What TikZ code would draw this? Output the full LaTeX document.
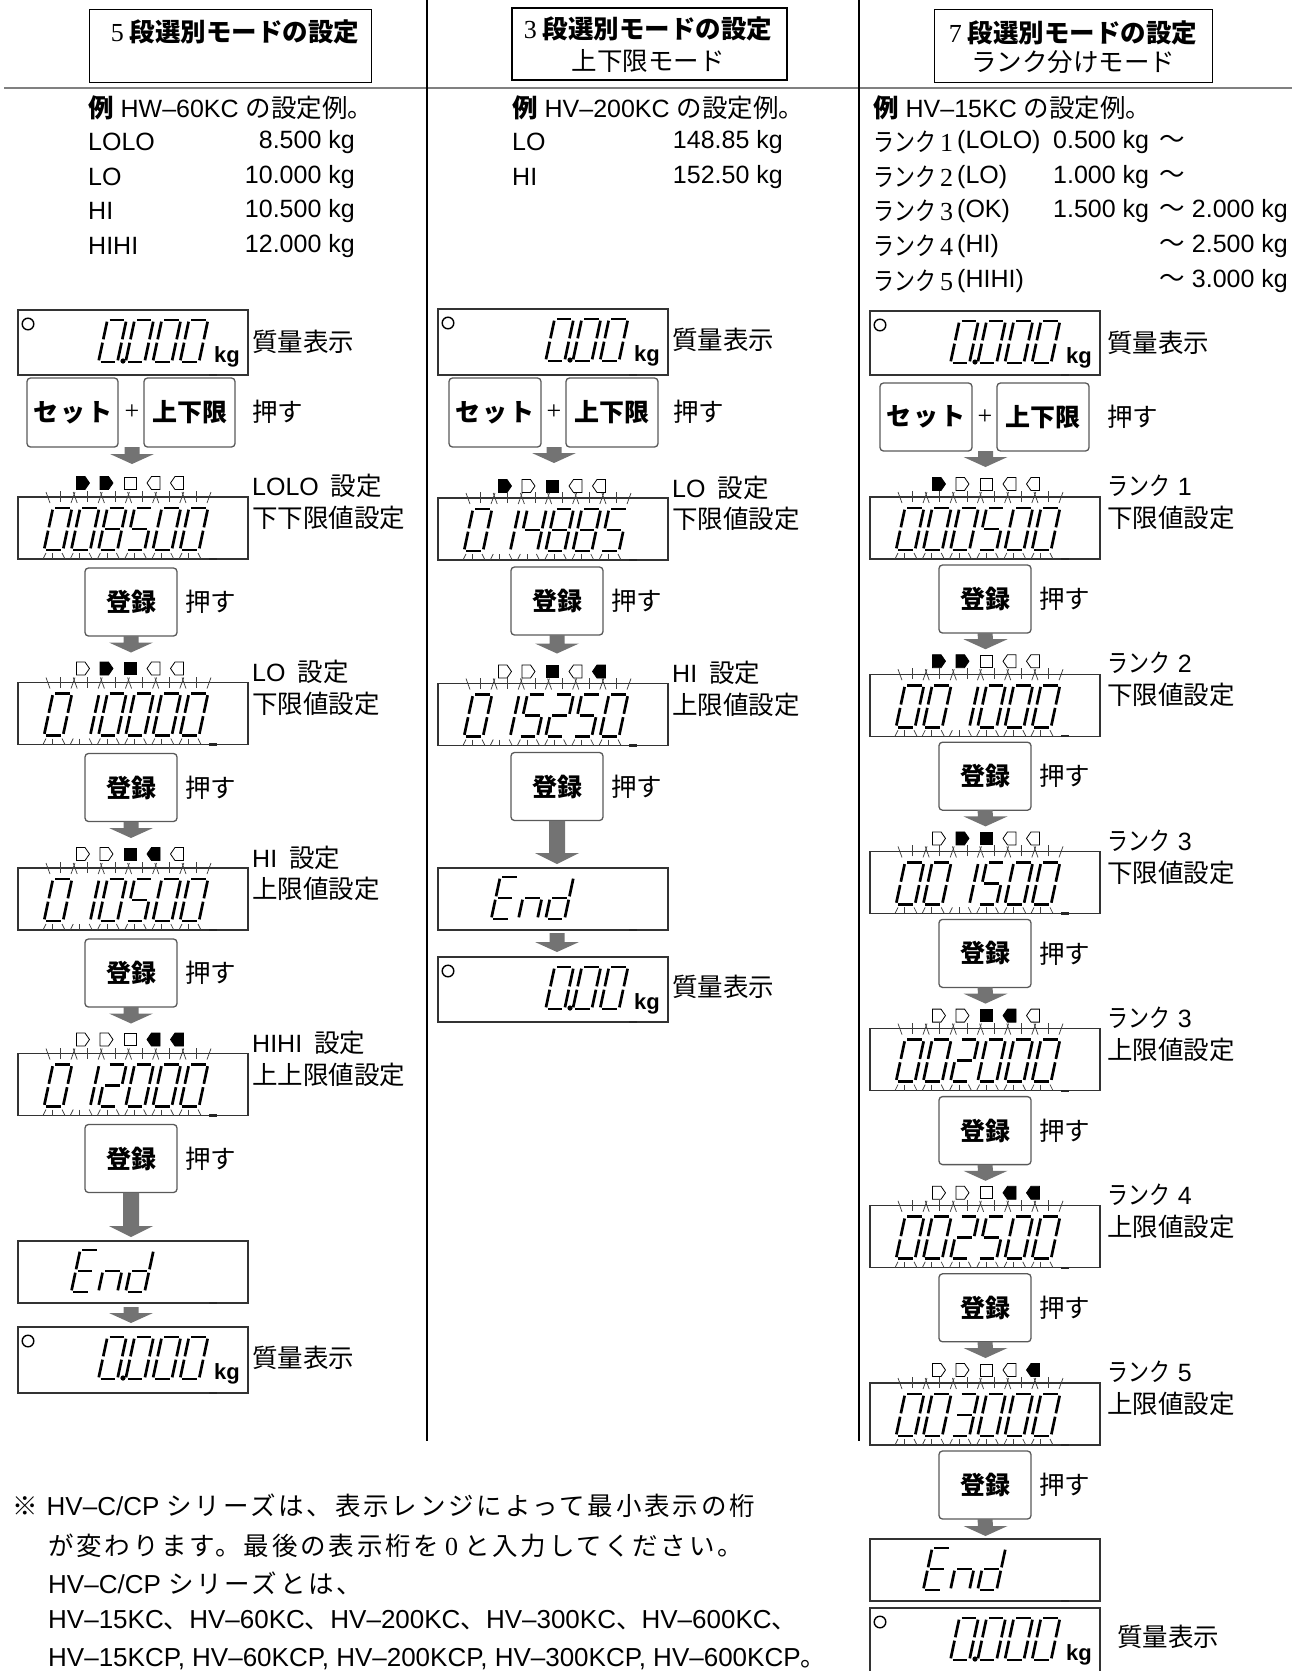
\documentclass[tikz,border=0pt]{standalone}
\usepackage{fontspec}
\usepackage{graphicx}
\setmainfont{Liberation Sans}
\newfontfamily\jp{Noto Sans CJK JP}
\newfontfamily\jpw{Noto Sans CJK JP}[LetterSpace=11]
\newfontfamily\sr{Liberation Serif}
\newcommand\J[1]{{\jp\fontsize{25.5pt}{29pt}\selectfont #1}}
\newcommand\JW[1]{{\jpw\fontsize{25.5pt}{29pt}\selectfont #1}}
\newcommand\JB[1]{{\jp\bfseries\fontsize{25.5pt}{29pt}\selectfont #1}}
\newcommand\R[1]{{\sr\fontsize{26pt}{29pt}\selectfont #1}}
\newcommand\Rk{\scalebox{0.82}[1]{\J{ランク}}}
\usetikzlibrary{arrows.meta}
\makeatletter
\newcommand\SegIf[3]{\in@{#1}{#2}\ifin@\expandafter\@firstofone\else\expandafter\@gobble\fi{#3}}
\newcommand\DigS[3]{%
 \begin{scope}[shift={({#1},{#2})},x={(19pt,0pt)},y={(9pt,42pt)}]
 \SegIf{a}{#3}{\draw[seg] (0.12,1)--(0.88,1);}
 \SegIf{b}{#3}{\draw[seg] (1,0.96)--(1,0.54);}
 \SegIf{c}{#3}{\draw[seg] (1,0.46)--(1,0.04);}
 \SegIf{d}{#3}{\draw[seg] (0.12,0)--(0.88,0);}
 \SegIf{e}{#3}{\draw[seg] (0,0.46)--(0,0.04);}
 \SegIf{f}{#3}{\draw[seg] (0,0.96)--(0,0.54);}
 \SegIf{g}{#3}{\draw[seg] (0.12,0.5)--(0.88,0.5);}
 \end{scope}}
\newcommand\DigC[3]{\edef\dg@s{\csname sg@#3\endcsname}\expandafter\DigC@\expandafter{\dg@s}{#1}{#2}}
\newcommand\DigC@[3]{\DigS{#2}{#3}{#1}}
\@namedef{sg@0}{abcdef}
\@namedef{sg@1}{bc}
\@namedef{sg@2}{abdeg}
\@namedef{sg@3}{abcdg}
\@namedef{sg@4}{bcfg}
\@namedef{sg@5}{acdfg}
\@namedef{sg@8}{abcdefg}
\@namedef{sg@E}{adefg}
\@namedef{sg@n}{ceg}
\@namedef{sg@d}{bcdeg}
\@namedef{sg@x}{}
\makeatother
\newcommand\Digits[3]{\foreach \ch [count=\i] in {#3} {\DigC{#1+26+(\i-1)*27.2}{#2}{\ch}}}
\newcommand\Rays[2]{\foreach \i in {0,...,5}{\begin{scope}[shift={({#1+26+\i*27.2},{#2})}]
 \draw[ray] (6,-47)--(2,-58); \draw[ray] (16.5,-48)--(16.5,-59); \draw[ray] (27,-47)--(31,-58);
 \draw[ray] (2,3)--(-1,9); \draw[ray] (8.5,3)--(8.5,9); \draw[ray] (18,3)--(21,9);
 \end{scope}}}
\newcommand\FlashDisp[4]{%
 \node[disp,minimum height=62pt] (#1) at (#2,#3) {};
 \Digits{#2}{#3+53}{#4}
 \Rays{#2}{#3+53}
 \draw[mk] ({#2+191},{#3+62})--({#2+199},{#3+62});}
\newcommand\IR[3]{\filldraw[ind,fill=#3] ({#1-6.5},{#2-6.5})--({#1+2},{#2-6.5})--({#1+6.5},{#2})--({#1+2},{#2+6.5})--({#1-6.5},{#2+6.5})--cycle;}
\newcommand\IL[3]{\filldraw[ind,fill=#3] ({#1+6.5},{#2-6.5})--({#1-2},{#2-6.5})--({#1-6.5},{#2})--({#1-2},{#2+6.5})--({#1+6.5},{#2+6.5})--cycle;}
\newcommand\IS[3]{\filldraw[ind,fill=#3] ({#1-6},{#2-6}) rectangle ({#1+6},{#2+6});}
\newcommand\Inds[7]{\IR{#1}{#2}{#3}\IR{#1+23.5}{#2}{#4}\IS{#1+47}{#2}{#5}\IL{#1+70.5}{#2}{#6}\IL{#1+94}{#2}{#7}}
\newcommand\Reg[3]{%
 \node[key,minimum width=92pt,minimum height=68pt] (#1) at (#2,#3) {登録};
 \node[lbl] (#1p) at ({#2+100},{#3+34}) {\J{押す}};}
\newcommand\Arr[2]{\fill[arrcol] ([xshift=-7.5pt]#1)--([xshift=7.5pt]#1)--([xshift=7.5pt,yshift=10pt]#2)--([xshift=22pt,yshift=10pt]#2)--(#2)--([xshift=-22pt,yshift=10pt]#2)--([xshift=-7.5pt,yshift=10pt]#2)--cycle;}
\newcommand\BigArr[2]{\fill[arrcol] ([xshift=-8pt]#1)--([xshift=8pt]#1)--([xshift=8pt,yshift=11pt]#2)--([xshift=22pt,yshift=11pt]#2)--(#2)--([xshift=-22pt,yshift=11pt]#2)--([xshift=-8pt,yshift=11pt]#2)--cycle;}
\newcommand\Mass[6]{%
 \node[disp,minimum height=#4pt] (#1) at (#2,#3) {};
 \Digits{#2}{#3+52}{#5}
 \fill ({#2+#6},{#3+51}) circle (2.6pt);
 \draw[line width=1.4pt] ({#2+10},{#3+14}) circle (5.8pt);
 \node[kg] (#1kg) at ({#2+209},{#3+52}) {kg};
 \draw[mk] ({#2+191},{#3+#4})--({#2+199},{#3+#4});}
\newcommand\EndDisp[3]{%
 \node[disp,minimum height=62pt] (#1) at (#2,#3) {};
 \Digits{#2}{#3+51}{x,E,n,d,x,x}
 \draw[mk] ({#2+191},{#3+62})--({#2+199},{#3+62});}
\tikzset{
 lbl/.style={anchor=west,inner sep=0pt},
 rlbl/.style={anchor=east,inner sep=0pt},
 disp/.style={draw=black!80,line width=1.2pt,anchor=north west,minimum width=230pt,inner sep=0pt,outer sep=0pt},
 key/.style={draw=black!65,line width=1.3pt,rounded corners=3.5pt,anchor=north west,inner sep=0pt,outer sep=0pt,font=\jp\bfseries\fontsize{25pt}{28pt}\selectfont},
 seg/.style={line width=2.7pt},
 ray/.style={line width=0.75pt,black!75},
 mk/.style={line width=2.2pt,black!85},
 ind/.style={line width=0.8pt,draw=black},
 arrcol/.style={fill=black!55},
 kg/.style={anchor=base,inner sep=0pt,font=\bfseries\fontsize{22pt}{24pt}\selectfont},
 title/.style={draw=black,line width=1.3pt,anchor=north west,inner sep=0pt},
}
\begin{document}
\begin{tikzpicture}[x=1pt,y=-1pt,font=\fontsize{25pt}{29pt}\selectfont]
\useasboundingbox (0,0) rectangle (1301,1671);
% frame lines
\draw[black!50,line width=1.3pt] (4,88)--(1292,88);
\draw[line width=2pt] (427,0)--(427,1441);
\draw[line width=2pt] (859,0)--(859,1441);
% titles
\node[title,minimum width=282pt,minimum height=73pt] (tb1) at (89,9) {};
\node (tt1) at (235,32) {\R{5}\hspace{6pt}\JB{段選別モードの設定}};
\node[title,line width=2.4pt,minimum width=275pt,minimum height=72pt] (tb2) at (511,7) {};
\node (tt2a) at (648,29) {\R{3}\hspace{6pt}\JB{段選別モードの設定}};
\node (tt2b) at (648,61) {\J{上下限モード}};
\node[title,minimum width=278pt,minimum height=73pt] (tb3) at (934,9) {};
\node (tt3a) at (1073,33) {\R{7}\hspace{6pt}\JB{段選別モードの設定}};
\node (tt3b) at (1073,62) {\J{ランク分けモード}};
% examples col1
\node[lbl] (e1) at (88,108) {\JB{例} HW–60KC \J{の設定例。}};
\node[lbl] (e1a) at (88,142) {LOLO}; \node[rlbl] (e1av) at (355,142) {8.500 kg};
\node[lbl] (e1b) at (88,177) {LO};   \node[rlbl] (e1bv) at (355,177) {10.000 kg};
\node[lbl] (e1c) at (88,211) {HI};   \node[rlbl] (e1cv) at (355,211) {10.500 kg};
\node[lbl] (e1d) at (88,246) {HIHI}; \node[rlbl] (e1dv) at (355,246) {12.000 kg};
% examples col2
\node[lbl] (e2) at (512,108) {\JB{例} HV–200KC \J{の設定例。}};
\node[lbl] (e2a) at (512,142) {LO}; \node[rlbl] (e2av) at (783,142) {148.85 kg};
\node[lbl] (e2b) at (512,177) {HI}; \node[rlbl] (e2bv) at (783,177) {152.50 kg};
% examples col3
\node[lbl] (e3) at (873,108) {\JB{例} HV–15KC \J{の設定例。}};
\node[lbl] (e3a) at (873,142) {\Rk\,\R{1}}; \node[lbl] (e3ap) at (957,142) {(LOLO)};
\node[lbl] (e3av) at (1053,142) {0.500 kg}; \node (e3aw) at (1172,142) {\J{〜}};
\node[lbl] (e3b) at (873,177) {\Rk\,\R{2}}; \node[lbl] (e3bp) at (957,177) {(LO)};
\node[lbl] (e3bv) at (1053,177) {1.000 kg}; \node (e3bw) at (1172,177) {\J{〜}};
\node[lbl] (e3c) at (873,211) {\Rk\,\R{3}}; \node[lbl] (e3cp) at (957,211) {(OK)};
\node[lbl] (e3cv) at (1053,211) {1.500 kg}; \node (e3cw) at (1172,211) {\J{〜}};
\node[rlbl] (e3cu) at (1288,211) {2.000 kg};
\node[lbl] (e3d) at (873,246) {\Rk\,\R{4}}; \node[lbl] (e3dp) at (957,246) {(HI)};
\node (e3dw) at (1172,246) {\J{〜}}; \node[rlbl] (e3du) at (1288,246) {2.500 kg};
\node[lbl] (e3e) at (873,281) {\Rk\,\R{5}}; \node[lbl] (e3ep) at (957,281) {(HIHI)};
\node (e3ew) at (1172,281) {\J{〜}}; \node[rlbl] (e3eu) at (1288,281) {3.000 kg};

% ================= COLUMN 1 =================
\Mass{a0}{18}{310}{65}{x,x,0,0,0,0}{105}
\node[lbl] (a0m) at (252,342) {\J{質量表示}};
\node[key,minimum width=91pt,minimum height=69pt] (a0k1) at (27,378) {セ\hspace{2pt}ッ\hspace{2pt}ト};
\node[key,minimum width=91pt,minimum height=69pt] (a0k2) at (144,378) {上下限};
\node (a0pl) at (132,412) {\R{+}};
\node[lbl] (a0p) at (252,412) {\J{押す}};
\coordinate (a0s) at (132,447); \coordinate (a0t) at (132,464);
\Arr{a0s}{a0t}
% step 1
\Inds{83}{483}{black}{black}{white}{white}{white}
\FlashDisp{a1}{18}{497}{0,0,8,5,0,0}
\node[lbl] (a1l1) at (252,486) {LOLO\hspace{12pt}\J{設定}};
\node[lbl] (a1l2) at (252,518) {\J{下下限値設定}};
\Reg{a1r}{85}{568}
\coordinate (a1t) at (131,652.5); \Arr{a1r.south}{a1t}
% step 2
\Inds{83}{668.5}{white}{black}{black}{white}{white}
\FlashDisp{a2}{18}{682.5}{0,1,0,0,0,0}
\node[lbl] (a2l1) at (252,672) {LO\hspace{12pt}\J{設定}};
\node[lbl] (a2l2) at (252,703.5) {\J{下限値設定}};
\Reg{a2r}{85}{753.5}
\coordinate (a2t) at (131,838); \Arr{a2r.south}{a2t}
% step 3
\Inds{83}{854}{white}{white}{black}{black}{white}
\FlashDisp{a3}{18}{868}{0,1,0,5,0,0}
\node[lbl] (a3l1) at (252,857.5) {HI\hspace{12pt}\J{設定}};
\node[lbl] (a3l2) at (252,889) {\J{上限値設定}};
\Reg{a3r}{85}{939}
\coordinate (a3t) at (131,1023.5); \Arr{a3r.south}{a3t}
% step 4
\Inds{83}{1039.5}{white}{white}{white}{black}{black}
\FlashDisp{a4}{18}{1053.5}{0,1,2,0,0,0}
\node[lbl] (a4l1) at (252,1043) {HIHI\hspace{12pt}\J{設定}};
\node[lbl] (a4l2) at (252,1074.5) {\J{上上限値設定}};
\Reg{a4r}{85}{1124.5}
\coordinate (a4t) at (131,1237); \BigArr{a4r.south}{a4t}
\EndDisp{a5}{18}{1241}
\coordinate (a5s) at (131,1307); \coordinate (a5t) at (131,1323);
\Arr{a5s}{a5t}
\Mass{a6}{18}{1327}{66}{x,x,0,0,0,0}{105}
\node[lbl] (a6m) at (252,1358) {\J{質量表示}};

% ================= COLUMN 2 =================
\Mass{b0}{438}{309}{66}{x,x,x,0,0,0}{132}
\node[lbl] (b0m) at (672,340) {\J{質量表示}};
\node[key,minimum width=92pt,minimum height=69pt] (b0k1) at (449,378) {セ\hspace{2pt}ッ\hspace{2pt}ト};
\node[key,minimum width=92pt,minimum height=69pt] (b0k2) at (566,378) {上下限};
\node (b0pl) at (554,412) {\R{+}};
\node[lbl] (b0p) at (673,412) {\J{押す}};
\coordinate (b0s) at (554,447); \coordinate (b0t) at (554,463);
\Arr{b0s}{b0t}
% step 1
\Inds{505}{486}{black}{white}{black}{white}{white}
\FlashDisp{b1}{438}{498}{0,1,4,8,8,5}
\node[lbl] (b1l1) at (672,488) {LO\hspace{12pt}\J{設定}};
\node[lbl] (b1l2) at (672,519) {\J{下限値設定}};
\Reg{b1r}{511}{567}
\coordinate (b1t) at (557,653.5); \Arr{b1r.south}{b1t}
% step 2
\Inds{505}{671.5}{white}{white}{black}{white}{black}
\FlashDisp{b2}{438}{683.5}{0,1,5,2,5,0}
\node[lbl] (b2l1) at (672,673) {HI\hspace{12pt}\J{設定}};
\node[lbl] (b2l2) at (672,704.5) {\J{上限値設定}};
\Reg{b2r}{511}{752.5}
\coordinate (b2t) at (557,864); \BigArr{b2r.south}{b2t}
\EndDisp{b3}{438}{868}
\coordinate (b3s) at (557,933); \coordinate (b3t) at (557,952);
\Arr{b3s}{b3t}
\Mass{b4}{438}{957}{65}{x,x,x,0,0,0}{132}
\node[lbl] (b4m) at (672,987) {\J{質量表示}};

% ================= COLUMN 3 =================
\Mass{c0}{870}{311}{64}{x,x,0,0,0,0}{105}
\node[lbl] (c0m) at (1107,343) {\J{質量表示}};
\node[key,minimum width=92pt,minimum height=68pt] (c0k1) at (880,383) {セ\hspace{2pt}ッ\hspace{2pt}ト};
\node[key,minimum width=92pt,minimum height=68pt] (c0k2) at (997,383) {上下限};
\node (c0pl) at (985,417) {\R{+}};
\node[lbl] (c0p) at (1107,417) {\J{押す}};
\coordinate (c0s) at (985.5,451); \coordinate (c0t) at (985.5,467);
\Arr{c0s}{c0t}
% step 1
\Inds{939}{484}{black}{white}{white}{white}{white}
\FlashDisp{c1}{870}{497}{0,0,0,5,0,0}
\node[lbl] (c1l1) at (1107,486) {\Rk\hspace{8pt}1};
\node[lbl] (c1l2) at (1107,518) {\J{下限値設定}};
\Reg{c1r}{939}{565}
\coordinate (c1t) at (985.5,649.2); \Arr{c1r.south}{c1t}
% step 2
\Inds{939}{661.2}{black}{black}{white}{white}{white}
\FlashDisp{c2}{870}{674.2}{0,0,1,0,0,0}
\node[lbl] (c2l1) at (1107,663.2) {\Rk\hspace{8pt}2};
\node[lbl] (c2l2) at (1107,695.2) {\J{下限値設定}};
\Reg{c2r}{939}{742.2}
\coordinate (c2t) at (985.5,826.4); \Arr{c2r.south}{c2t}
% step 3
\Inds{939}{838.4}{white}{black}{black}{white}{white}
\FlashDisp{c3}{870}{851.4}{0,0,1,5,0,0}
\node[lbl] (c3l1) at (1107,840.4) {\Rk\hspace{8pt}3};
\node[lbl] (c3l2) at (1107,872.4) {\J{下限値設定}};
\Reg{c3r}{939}{919.4}
\coordinate (c3t) at (985.5,1003.6); \Arr{c3r.south}{c3t}
% step 4
\Inds{939}{1015.6}{white}{white}{black}{black}{white}
\FlashDisp{c4}{870}{1028.6}{0,0,2,0,0,0}
\node[lbl] (c4l1) at (1107,1017.6) {\Rk\hspace{8pt}3};
\node[lbl] (c4l2) at (1107,1049.6) {\J{上限値設定}};
\Reg{c4r}{939}{1096.6}
\coordinate (c4t) at (985.5,1180.8); \Arr{c4r.south}{c4t}
% step 5
\Inds{939}{1192.8}{white}{white}{white}{black}{black}
\FlashDisp{c5}{870}{1205.8}{0,0,2,5,0,0}
\node[lbl] (c5l1) at (1107,1194.8) {\Rk\hspace{8pt}4};
\node[lbl] (c5l2) at (1107,1226.8) {\J{上限値設定}};
\Reg{c5r}{939}{1273.8}
\coordinate (c5t) at (985.5,1358); \Arr{c5r.south}{c5t}
% step 6
\Inds{939}{1370}{white}{white}{white}{white}{black}
\FlashDisp{c6}{870}{1383}{0,0,3,0,0,0}
\node[lbl] (c6l1) at (1107,1372) {\Rk\hspace{8pt}5};
\node[lbl] (c6l2) at (1107,1404) {\J{上限値設定}};
\Reg{c6r}{939}{1451}
\coordinate (c6t) at (985.5,1536); \Arr{c6r.south}{c6t}
\EndDisp{c7}{870}{1539}
\Mass{c8}{870}{1608}{66}{x,x,0,0,0,0}{105}
\node[lbl] (c8m) at (1117,1637) {\J{質量表示}};

% ================= NOTE =================
\begin{scope}[font=\fontsize{26pt}{29pt}\selectfont]
\node[lbl] (n1) at (12,1506) {\J{※}\hspace{9pt}HV–C/CP \JW{シリーズは、表示レンジによって最小表示の桁}};
\node[lbl] (n2) at (48,1546) {\JW{が変わります。最後の表示桁を}\hspace{6pt}\R{0}\hspace{6pt}\JW{と入力してください。}};
\node[lbl] (n3) at (48,1583) {HV–C/CP \JW{シリーズとは、}};
\node[lbl] (n4) at (48,1620) {HV–15KC\J{、}HV–60KC\J{、}HV–200KC\J{、}HV–300KC\J{、}HV–600KC\J{、}};
\node[lbl] (n5) at (48,1659) {HV–15KCP, HV–60KCP, HV–200KCP, HV–300KCP, HV–600KCP\J{。}};
\end{scope}
\end{tikzpicture}
\end{document}
